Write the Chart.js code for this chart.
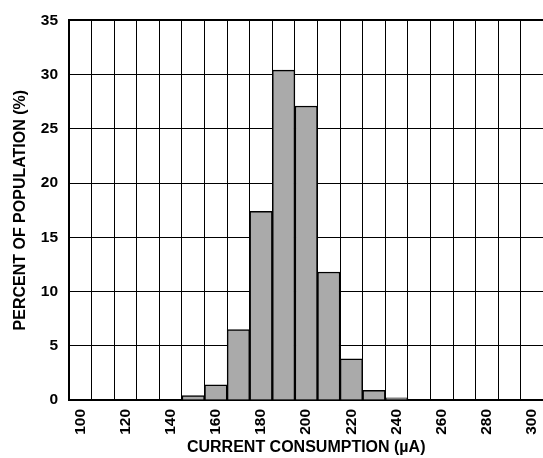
<!DOCTYPE html>
<html>
<head>
<meta charset="utf-8">
<script src="https://cdn.jsdelivr.net/npm/chart.js@4.4.1/dist/chart.umd.min.js"></script>
<style>
  html, body { margin: 0; padding: 0; background: #fff; overflow: hidden; }
  #wrap { width: 560px; height: 458px; }
</style>
</head>
<body>
<div id="wrap"><canvas id="histo" width="560" height="458"></canvas></div>
<script>
// current bins (uA), one column every 10
const categories = ['100', '110', '120', '130', '140', '150', '160', '170', '180', '190', '200',
    '210', '220', '230', '240', '250', '260', '270', '280', '290', '300'];
// percent of population per bin
const percent = [0, 0, 0, 0, 0, 0.4, 1.4, 6.5, 17.4, 30.4, 27.1,
    11.8, 3.8, 0.9, 0.2, 0, 0, 0, 0, 0, 0];
const yTicks = [0, 5, 10, 15, 20, 25, 30, 35];

const font = { family: "'Liberation Sans', Arial, sans-serif", weight: 'bold' };

document.addEventListener('DOMContentLoaded', () => {
    const ctx = document.getElementById('histo').getContext('2d');
    const chart = new Chart(ctx, {
        type: 'bar',
        data: {
            labels: categories,
            datasets: [
                {
                    label: 'Population',
                    data: percent,
                    backgroundColor: '#aaaaaa',
                    borderColor: '#000000',
                    borderWidth: 1.5,
                    barPercentage: 1,
                    categoryPercentage: 1,
                },
            ],
        },
        options: {
            responsive: false,
            animation: false,
            devicePixelRatio: 1,
            layout: { padding: { top: 18, right: 12, left: 0, bottom: 0 } },
            plugins: { legend: { display: false }, tooltip: { enabled: false } },
            scales: {
                x: {
                    offset: true,
                    grid: {
                        offset: true,
                        color: '#000',
                        lineWidth: 1,
                        drawTicks: false,
                    },
                    border: { color: '#000', width: 2 },
                    ticks: {
                        color: '#000',
                        font: { ...font, size: 15.5 },
                        minRotation: 90,
                        maxRotation: 90,
                        autoSkip: false,
                        padding: 9,
                        callback: (v, i) => (i % 2 === 0 ? categories[i] : ''),
                    },
                    title: {
                        display: true,
                        text: 'CURRENT CONSUMPTION (µA)',
                        color: '#000',
                        font: { ...font, size: 16 },
                        padding: { top: 0, bottom: 1 },
                    },
                    afterFit: (scale) => { scale.height = 58; },
                },
                y: {
                    min: 0,
                    max: 35,
                    afterBuildTicks: (scale) => {
                        scale.ticks = yTicks.map((v) => ({ value: v }));
                    },
                    grid: {
                        color: '#000',
                        lineWidth: (c) => (c.tick && c.tick.value === 35 ? 2 : 1),
                        drawTicks: false,
                    },
                    border: { color: '#000', width: 2 },
                    ticks: {
                        color: '#000',
                        font: { ...font, size: 15.5 },
                        padding: 11,
                    },
                    title: {
                        display: true,
                        text: 'PERCENT OF POPULATION (%)',
                        color: '#000',
                        font: { ...font, size: 16 },
                        padding: { top: 11, bottom: 0 },
                    },
                    afterFit: (scale) => { scale.width = 69; },
                },
            },
        },
    });
});
</script>
</body>
</html>
